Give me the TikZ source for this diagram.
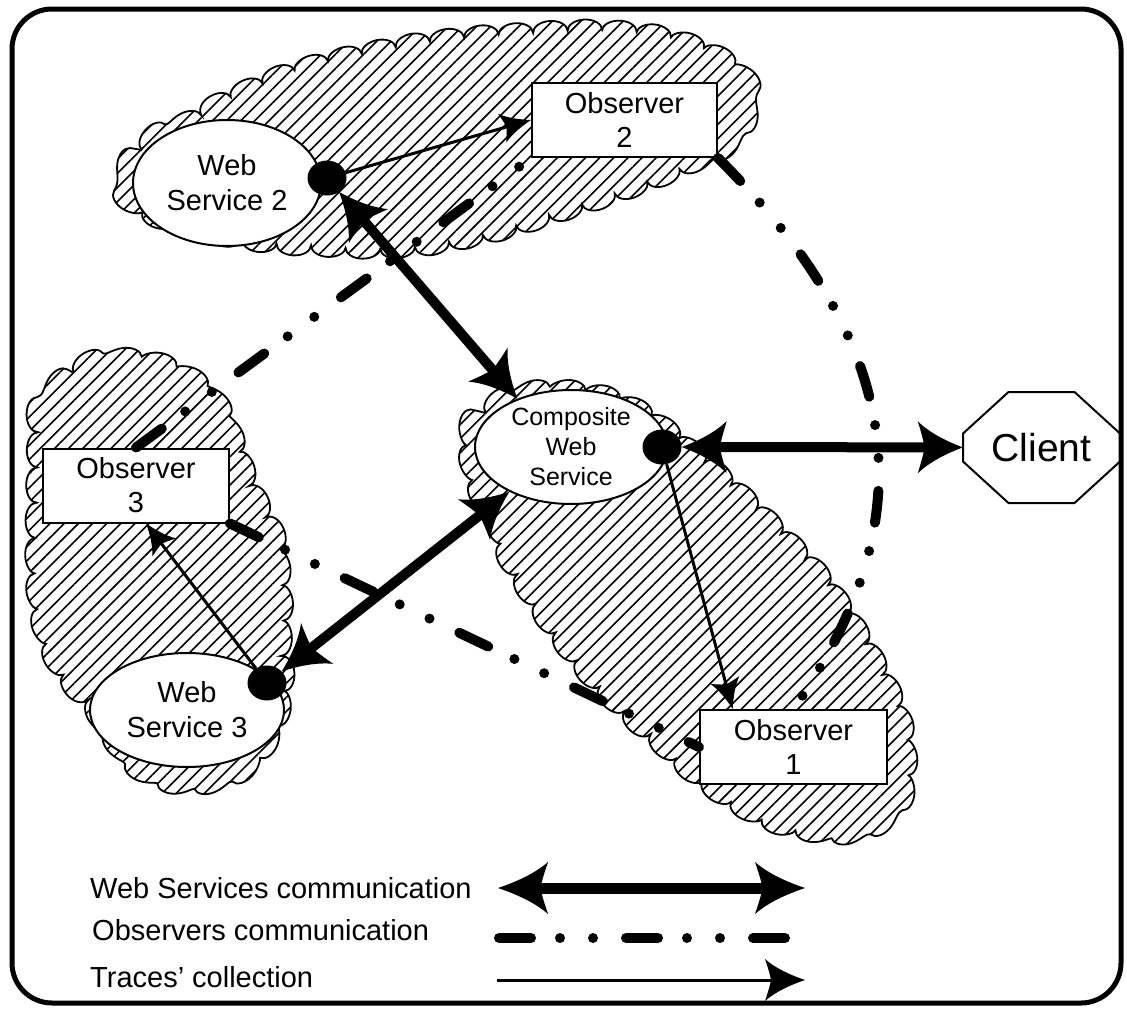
\documentclass[tikz,border=0pt]{standalone}
\usepackage{fontspec}
\setmainfont{Liberation Sans}
\usetikzlibrary{arrows.meta,patterns.meta,decorations,shapes.geometric,calc}

% filled arrow head with slightly concave sides and sharp barbs
\pgfdeclarearrow{
  name = Swoop,
  defaults = {length = 45pt, width = 52pt},
  parameters = {\the\pgfarrowlength,\the\pgfarrowwidth},
  setup code = {
    \pgfarrowssettipend{0pt}
    \pgfarrowssetbackend{-\pgfarrowlength}
    \pgfarrowssetlineend{-0.75\pgfarrowlength}
    \pgfarrowshullpoint{0pt}{0pt}
    \pgfarrowshullpoint{-\pgfarrowlength}{0.5\pgfarrowwidth}
    \pgfarrowshullpoint{-\pgfarrowlength}{-0.5\pgfarrowwidth}
    \pgfarrowssavethe\pgfarrowlength
    \pgfarrowssavethe\pgfarrowwidth
  },
  drawing code = {
    \pgfpathmoveto{\pgfqpoint{0pt}{0pt}}
    \pgfpathcurveto{\pgfqpoint{-0.4\pgfarrowlength}{0.13\pgfarrowwidth}}{\pgfqpoint{-0.75\pgfarrowlength}{0.29\pgfarrowwidth}}{\pgfqpoint{-\pgfarrowlength}{0.5\pgfarrowwidth}}
    \pgfpathcurveto{\pgfqpoint{-0.93\pgfarrowlength}{0.3\pgfarrowwidth}}{\pgfqpoint{-0.87\pgfarrowlength}{0.12\pgfarrowwidth}}{\pgfqpoint{-0.85\pgfarrowlength}{0pt}}
    \pgfpathcurveto{\pgfqpoint{-0.87\pgfarrowlength}{-0.12\pgfarrowwidth}}{\pgfqpoint{-0.93\pgfarrowlength}{-0.3\pgfarrowwidth}}{\pgfqpoint{-\pgfarrowlength}{-0.5\pgfarrowwidth}}
    \pgfpathcurveto{\pgfqpoint{-0.75\pgfarrowlength}{-0.29\pgfarrowwidth}}{\pgfqpoint{-0.4\pgfarrowlength}{-0.13\pgfarrowwidth}}{\pgfqpoint{0pt}{0pt}}
    \pgfpathclose
    \pgfusepathqfill
  }
}

% scalloped outline: a whole number of equal bumps around the path
\newdimen\scallopdim
\pgfdeclaredecoration{scallops}{initial}{
  \state{initial}[width=0pt, next state=bump]{%
    \pgfmathtruncatemacro\scallopcount{max(1,round(\pgfdecoratedpathlength/(0.5*\pgfdecorationsegmentlength)))}%
    \pgfmathsetlengthmacro\scallopwidth{\pgfdecoratedpathlength/\scallopcount-0.05pt}%
    \global\scallopdim=\scallopwidth\relax
  }
  \state{bump}[width=\scallopdim]{%
    \pgfpathcurveto{\pgfqpoint{0pt}{0.555\pgfdecorationsegmentamplitude}}{\pgfqpoint{0.2225\scallopdim}{\pgfdecorationsegmentamplitude}}{\pgfqpoint{0.5\scallopdim}{\pgfdecorationsegmentamplitude}}%
    \pgfpathcurveto{\pgfqpoint{0.7775\scallopdim}{\pgfdecorationsegmentamplitude}}{\pgfqpoint{\scallopdim}{0.555\pgfdecorationsegmentamplitude}}{\pgfqpoint{\scallopdim}{0pt}}%
  }
  \state{final}{\pgfpathlineto{\pgfpointdecoratedpathlast}}
}

\begin{document}
\begin{tikzpicture}[x=1pt,y=-1pt,
  cloudarea/.style={line width=1.8pt,
    pattern={Lines[angle=45,distance=10pt,line width=1.6pt]},
    decorate, decoration={scallops, segment length=70pt, amplitude=11pt}},
  svc/.style={ellipse, draw, line width=2pt, fill=white, inner sep=0pt,
    align=center, font=\fontsize{29}{35}\selectfont},
  obsbox/.style={rectangle, draw, line width=2pt, fill=white,
    minimum width=186pt, minimum height=74pt, inner sep=0pt,
    align=center, font=\fontsize{29}{34}\selectfont},
  port/.style={ellipse, fill=black, minimum width=39pt, minimum height=35pt, inner sep=0pt},
  wslink/.style={line width=10pt, {Swoop[length=45pt,width=52pt]}-{Swoop[length=45pt,width=52pt]}},
  trace/.style={line width=3pt, -{Swoop[length=30pt,width=30pt]}},
  obslink/.style={line width=10pt, line cap=round,
    dash pattern=on 32pt off 29pt on 0pt off 33pt on 0pt off 33pt},
  legendtext/.style={anchor=west, inner sep=0pt, font=\fontsize{29}{34}\selectfont}
]
\useasboundingbox (0,0) rectangle (1127,1012);

% outer frame
\draw[line width=5pt, rounded corners=40pt] (12,9) rectangle (1121,1003);

% hatched clouds
\draw[cloudarea] plot[smooth cycle, tension=0.7] coordinates {
  (126,188) (142,150) (184,124) (234,97) (292,73) (360,55) (440,41) (520,34)
  (598,31) (663,38) (718,58) (744,84) (744,115) (728,140) (693,161) (636,185)
  (566,209) (490,232) (410,246) (330,246) (254,240) (188,226) (144,209)};
\draw[cloudarea] plot[smooth cycle, tension=0.7] coordinates {
  (42,412) (74,373) (120,360) (166,368) (206,393) (231,434) (248,481) (270,526)
  (280,580) (281,630) (282,690) (268,737) (240,768) (195,782) (150,773) (119,746)
  (94,709) (64,673) (44,626) (37,570) (37,500) (38,452)};
\draw[cloudarea] plot[smooth cycle, tension=0.7] coordinates {
  (470,440) (486,413) (523,395) (570,392) (616,402) (657,424) (696,456) (736,491)
  (776,530) (814,570) (848,617) (877,667) (899,716) (905,770) (894,806) (858,829)
  (806,829) (754,812) (708,783) (669,750) (629,714) (596,681) (564,642) (536,602)
  (512,563) (496,523) (478,486)};

% services
\node[svc, minimum width=188pt, minimum height=126pt] (ws2) at (227,183) {Web\\Service 2};
\node[svc, minimum width=194pt, minimum height=114pt] (ws3) at (187,710) {Web\\Service 3};
\node[svc, minimum width=192pt, minimum height=114pt] (comp) at (571,447) {};
\node[align=center, inner sep=0pt, font=\fontsize{25}{30}\selectfont] (comptext) at (comp) {Composite\\Web\\Service};

% observers
\node[obsbox, minimum width=185pt] (obs2) at (624.5,120) {Observer\\2};
\node[obsbox] (obs3) at (136,485.5) {Observer\\3};
\node[obsbox, minimum width=187pt] (obs1) at (793.5,747) {Observer\\1};

% client
\node[rectangle, minimum width=157pt, minimum height=111pt, inner sep=0pt,
      font=\fontsize{39}{44}\selectfont] (client) at (1041.5,447.5) {Client};
\draw[line width=2pt] (client.center) ++(-33,-55.5) -- ++(66,0) -- ++(45.5,41.5)
  -- ++(0,28) -- ++(-45.5,41.5) -- ++(-66,0) -- ++(-45.5,-41.5) -- ++(0,-28) -- cycle;

% observers communication
\draw[obslink] (obs3.north) -- (obs2.south west);
\draw[obslink] (obs3.south east) -- (obs1.west);
\draw[obslink] (obs2.south east) .. controls (916,356) and (919,528) .. (obs1.north);

% interaction points
\node[port] (ws2dot) at (327,178) {};
\node[port] (compdot) at (662,447) {};
\node[port] (ws3dot) at (267,683) {};

% traces' collection
\draw[trace] (ws2dot) -- (obs2.west);
\draw[trace] (compdot) -- (obs1.148);
\draw[trace] (ws3dot) -- (obs3.-75);

% web services communication
\draw[wslink] (ws2dot) -- (comp.138);
\draw[wslink] (ws3dot) -- (comp.216);
\draw[wslink] (compdot) -- (client);

% legend
\node[legendtext] (lg1) at (90,888) {Web Services communication};
\node[legendtext] (lg2) at (92,930) {Observers communication};
\node[legendtext] (lg3) at (90,977) {Traces' collection};
\coordinate (lg1a) at (498,888);
\coordinate (lg1b) at (805,888);
\coordinate (lg2a) at (499,938);
\coordinate (lg2b) at (788,938);
\coordinate (lg3a) at (497,980);
\coordinate (lg3b) at (805,980);
\draw[line width=11pt, {Swoop[length=50pt,width=52pt]}-{Swoop[length=50pt,width=52pt]}] (lg1a) -- (lg1b);
\draw[obslink] (lg2a) -- (lg2b);
\draw[line width=3pt, -{Swoop[length=40pt,width=42pt]}] (lg3a) -- (lg3b);
\end{tikzpicture}
\end{document}
